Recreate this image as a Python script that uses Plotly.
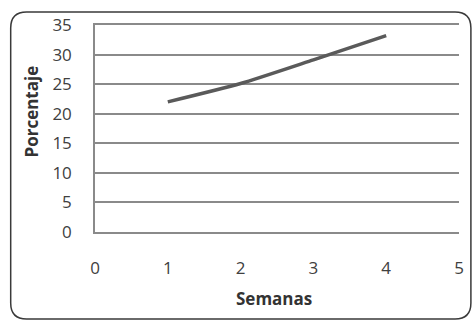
import plotly.graph_objects as go

semanas = [1, 2, 3, 4]
porcentaje = [22, 25.1, 29.1, 33.2]
x_ticks = [0, 1, 2, 3, 4, 5]
y_ticks = [0, 5, 10, 15, 20, 25, 30, 35]

W, H = 476, 322
L, R, T, B = 95, 14, 25, 90
pw, ph = W - L - R, H - T - B

def px(x):
    return (x - L) / pw

def py(y):
    return (H - B - y) / ph

fig = go.Figure()
fig.add_trace(go.Scatter(x=semanas, y=porcentaje, mode="lines",
                         line=dict(color="#5a5a5a", width=3.5, shape="spline", smoothing=0.6),
                         showlegend=False))

# rounded border
x0, x1, y0, y1, r = 10, 474, 12, 319, 16
path = (f"M {px(x0+r)} {py(y0)} L {px(x1-r)} {py(y0)} Q {px(x1)} {py(y0)} {px(x1)} {py(y0+r)} "
        f"L {px(x1)} {py(y1-r)} Q {px(x1)} {py(y1)} {px(x1-r)} {py(y1)} "
        f"L {px(x0+r)} {py(y1)} Q {px(x0)} {py(y1)} {px(x0)} {py(y1-r)} "
        f"L {px(x0)} {py(y0+r)} Q {px(x0)} {py(y0)} {px(x0+r)} {py(y0)} Z")
fig.add_shape(type="path", path=path, xref="paper", yref="paper",
              line=dict(color="#3a3a3a", width=1.5), layer="below")

title_font = dict(family="Open Sans, Lato, sans-serif", size=17, color="#333333")
fig.add_annotation(text="<b>Semanas</b>", xref="paper", yref="paper",
                   x=px(275), y=py(298), showarrow=False, font=title_font,
                   xanchor="center", yanchor="middle")
fig.add_annotation(text="<b>Porcentaje</b>", xref="paper", yref="paper",
                   x=px(30), y=py(112), showarrow=False, font=title_font, textangle=-90,
                   xanchor="center", yanchor="middle")

font = dict(family="Open Sans, Lato, sans-serif", color="#404040", size=17)
fig.update_layout(
    width=W, height=H, margin=dict(l=L, r=R, t=T, b=B),
    paper_bgcolor="white", plot_bgcolor="white", font=font,
    xaxis=dict(range=[0, 5], tickvals=x_ticks, showgrid=False, zeroline=False,
               showline=True, mirror=True, linecolor="#8a8a8a", linewidth=1.5,
               ticks="", ticklabelstandoff=20),
    yaxis=dict(range=[0, 35], tickvals=y_ticks, showgrid=True, gridcolor="#8a8a8a", gridwidth=1.5,
               zeroline=False, showline=True, linecolor="#8a8a8a", linewidth=1.5, ticks="",
               ticklabelstandoff=18),
)
fig.write_html("out.html", post_script="document.body.style.margin='0';",
               config={"displayModeBar": False})
